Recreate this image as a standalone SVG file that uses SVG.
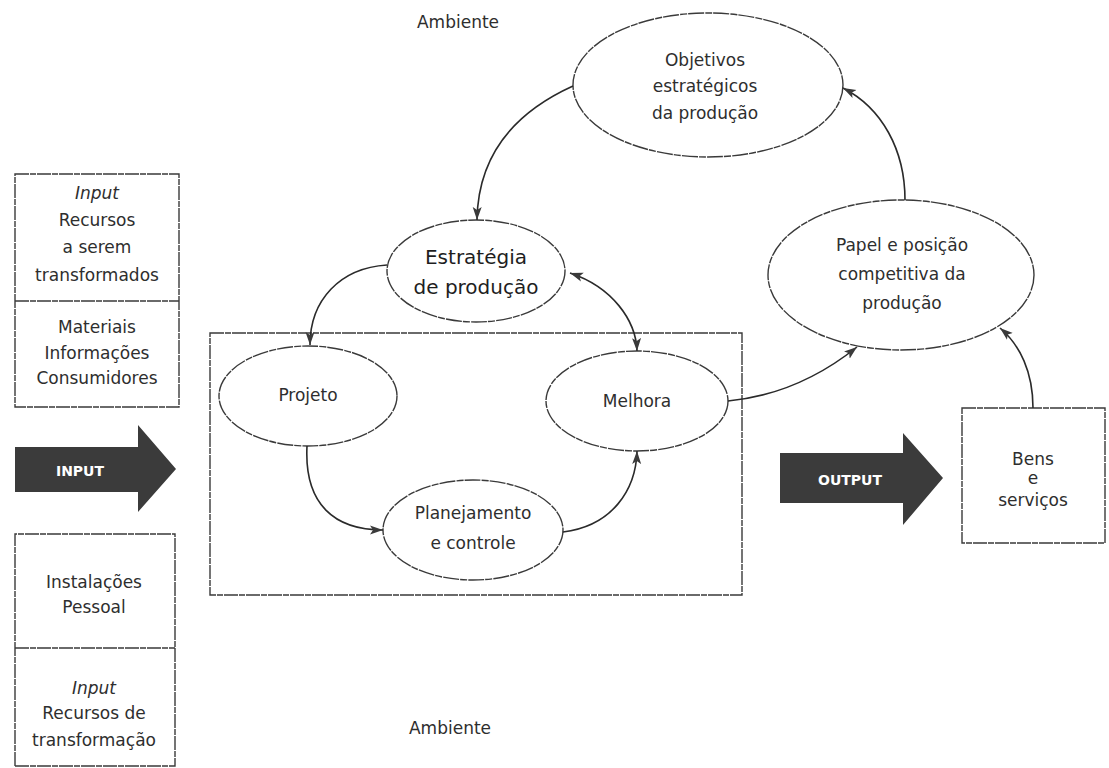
<svg xmlns="http://www.w3.org/2000/svg" width="1109" height="768" viewBox="0 0 1109 768">
  <style>
    .bg { fill: #ffffff; }
    .box { fill: none; stroke: #3a3a3a; stroke-width: 1.4; stroke-dasharray: 14 1 6 1; }
    .oval { fill: #ffffff; stroke: #3a3a3a; stroke-width: 1.4; stroke-dasharray: 16 1.2 7 1; }
    .link { fill: none; stroke: #2a2a2a; stroke-width: 1.6; }
    .txt { font-family: "DejaVu Sans", "Liberation Sans", sans-serif; font-size: 17px; fill: #2e2e2e; text-anchor: middle; }
    .it { font-style: italic; }
    .big { font-size: 20px; fill: #1e1e1e; }
    .block { fill: #3b3b3b; }
    .blocklabel { font-family: "DejaVu Sans", "Liberation Sans", sans-serif; font-weight: bold; font-size: 14px; fill: #ffffff; text-anchor: middle; }
  </style>
  <defs>
    <marker id="head" markerUnits="userSpaceOnUse" markerWidth="14" markerHeight="10" refX="13" refY="5" orient="auto-start-reverse">
      <path d="M0,0.5 L13,5 L0,9.5 L3,5 z" fill="#3a3a3a"/>
    </marker>
  </defs>

  <rect class="bg" x="0" y="0" width="1109" height="768"/>

  <!-- surrounding environment labels -->
  <text class="txt" x="458" y="28">Ambiente</text>
  <text class="txt" x="450" y="734">Ambiente</text>

  <!-- transformed resources -->
  <g id="input-transformed">
    <rect class="box" x="15" y="174" width="164" height="233"/>
    <line class="box" x1="15" y1="301" x2="179" y2="301"/>
    <text class="txt it" x="97" y="199">Input</text>
    <text class="txt" x="97" y="226">Recursos</text>
    <text class="txt" x="97" y="253">a serem</text>
    <text class="txt" x="97" y="281">transformados</text>
    <text class="txt" x="97" y="333">Materiais</text>
    <text class="txt" x="97" y="359">Informações</text>
    <text class="txt" x="97" y="384">Consumidores</text>
  </g>

  <!-- transforming resources -->
  <g id="input-transforming">
    <path class="box" d="M15,766 L15,534 L175,534 L175,766 L15,766"/>
    <line class="box" x1="15" y1="648" x2="175" y2="648"/>
    <text class="txt" x="94" y="588">Instalações</text>
    <text class="txt" x="94" y="613">Pessoal</text>
    <text class="txt it" x="94" y="694">Input</text>
    <text class="txt" x="94" y="719">Recursos de</text>
    <text class="txt" x="94" y="746">transformação</text>
  </g>

  <!-- input block arrow -->
  <g id="input-arrow">
    <path class="block" d="M15,447 L138,447 L138,425 L176,469 L138,512 L138,492 L15,492 z"/>
    <text class="blocklabel" x="80" y="476">INPUT</text>
  </g>

  <!-- output block arrow -->
  <g id="output-arrow">
    <path class="block" d="M780,453 L903,453 L903,433 L943,478 L903,525 L903,503 L780,503 z"/>
    <text class="blocklabel" x="850" y="485">OUTPUT</text>
  </g>

  <!-- operations boundary -->
  <g id="operations">
    <rect class="box" x="210" y="333" width="532" height="262"/>
  </g>

  <g id="objetivos">
    <ellipse class="oval" cx="708" cy="85" rx="135" ry="72"/>
    <text class="txt" x="705" y="66">Objetivos</text>
    <text class="txt" x="705" y="92">estratégicos</text>
    <text class="txt" x="705" y="119">da produção</text>
  </g>

  <g id="estrategia">
    <ellipse class="oval" cx="476" cy="271" rx="89" ry="51"/>
    <text class="txt big" x="476" y="264">Estratégia</text>
    <text class="txt big" x="476" y="294">de produção</text>
  </g>

  <g id="papel">
    <ellipse class="oval" cx="901" cy="275" rx="133" ry="75"/>
    <text class="txt" x="902" y="251">Papel e posição</text>
    <text class="txt" x="902" y="280">competitiva da</text>
    <text class="txt" x="902" y="309">produção</text>
  </g>

  <g id="projeto">
    <ellipse class="oval" cx="308" cy="396" rx="89" ry="50"/>
    <text class="txt" x="308" y="401">Projeto</text>
  </g>

  <g id="melhora">
    <ellipse class="oval" cx="637" cy="401" rx="91" ry="50"/>
    <text class="txt" x="637" y="407">Melhora</text>
  </g>

  <g id="planejamento">
    <ellipse class="oval" cx="473" cy="530" rx="90" ry="50"/>
    <text class="txt" x="473" y="519">Planejamento</text>
    <text class="txt" x="473" y="549">e controle</text>
  </g>

  <g id="bens">
    <rect class="box" x="962" y="408" width="143" height="135"/>
    <text class="txt" x="1033" y="465">Bens</text>
    <text class="txt" x="1033" y="484">e</text>
    <text class="txt" x="1033" y="506">serviços</text>
  </g>

  <!-- connectors -->
  <g id="connectors">
    <path class="link" d="M573,86 C520,110 478,150 477,220" marker-end="url(#head)"/>
    <path class="link" d="M387,265 C340,268 310,300 310,345" marker-end="url(#head)"/>
    <path class="link" d="M570,273 C612,287 636,320 637,351" marker-start="url(#head)" marker-end="url(#head)"/>
    <path class="link" d="M307,446 C304,505 335,530 383,530" marker-end="url(#head)"/>
    <path class="link" d="M563,532 C612,526 636,490 637,451" marker-end="url(#head)"/>
    <path class="link" d="M728,401 C780,396 822,375 857,347" marker-end="url(#head)"/>
    <path class="link" d="M1033,408 C1033,372 1020,345 1000,328" marker-end="url(#head)"/>
    <path class="link" d="M905,200 C905,150 882,108 843,88" marker-end="url(#head)"/>
  </g>
</svg>
